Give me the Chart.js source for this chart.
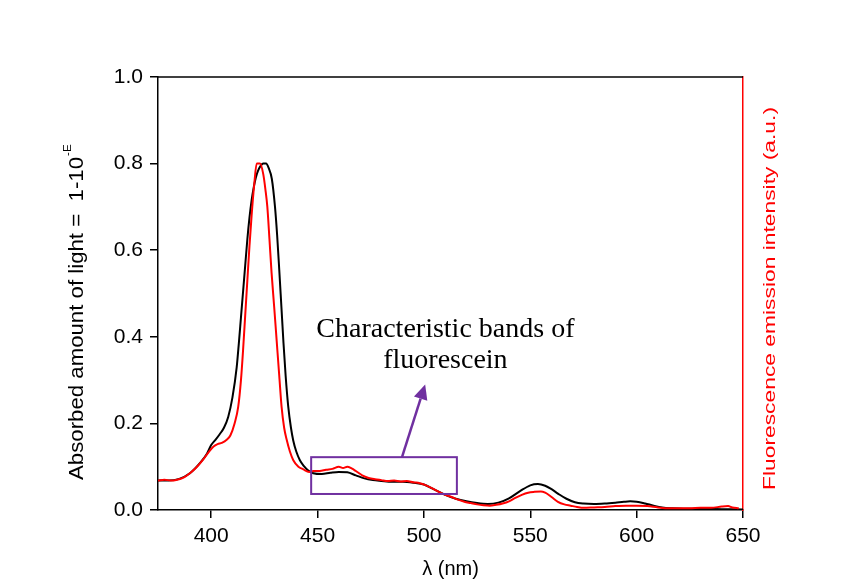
<!DOCTYPE html>
<html>
<head>
<meta charset="utf-8">
<script src="https://cdn.jsdelivr.net/npm/chart.js@4.4.1/dist/chart.umd.min.js"></script>
<style>
  html, body { margin: 0; padding: 0; background: #fff; }
  #wrap { width: 847px; height: 588px; }
</style>
</head>
<body>
<div id="wrap"><canvas id="chart"></canvas></div>
<script>
// Absorbance (black) - wavelength (nm) and value
const absWavelength = [375, 380, 385, 390, 395, 398, 400, 402, 404, 406, 408, 410, 412, 413, 414, 415, 416, 417, 418, 419, 420, 421, 422, 423, 424.5, 425.8, 427, 428.5, 430, 431, 432, 433, 434, 435, 436.2, 437.5, 438.6, 440, 441.7, 443.5, 445.5, 448, 452, 456, 460, 464, 468, 472, 476, 480, 485, 490, 495, 500, 505, 510, 515, 520, 525, 530, 535, 540, 545, 550, 553.6, 557, 560, 563, 567, 571, 575, 580, 585, 590, 594, 597, 600, 604, 608, 612, 617, 622, 630, 640, 650];
const absValue = [0.068, 0.068, 0.072, 0.085, 0.11, 0.13, 0.15, 0.162, 0.175, 0.19, 0.215, 0.26, 0.33, 0.385, 0.445, 0.505, 0.565, 0.625, 0.675, 0.715, 0.745, 0.768, 0.783, 0.793, 0.8, 0.8, 0.79, 0.765, 0.70, 0.635, 0.555, 0.47, 0.385, 0.31, 0.24, 0.19, 0.16, 0.135, 0.115, 0.102, 0.092, 0.085, 0.083, 0.086, 0.088, 0.087, 0.08, 0.073, 0.069, 0.067, 0.065, 0.065, 0.063, 0.059, 0.047, 0.035, 0.026, 0.02, 0.016, 0.014, 0.017, 0.027, 0.043, 0.057, 0.06, 0.056, 0.048, 0.038, 0.026, 0.018, 0.015, 0.014, 0.015, 0.017, 0.019, 0.02, 0.019, 0.015, 0.01, 0.006, 0.004, 0.003, 0.003, 0.002, 0.001];

// Fluorescence emission (red) - wavelength (nm) and intensity
const fluoWavelength = [375, 378, 381, 384, 387, 390, 393, 396, 399, 401, 403, 405, 407.3, 409, 411, 412.7, 414, 415, 416, 417, 418, 419, 420.2, 421.4, 423, 424.5, 425.5, 426.4, 427.4, 428.4, 429.6, 430.8, 432, 433.1, 434.3, 435.5, 437, 438.6, 441, 443.3, 446, 448, 451, 454, 457, 460, 462, 464, 466, 468, 471, 474, 477, 480, 483, 486, 489, 492, 495, 498, 501, 504, 507, 510, 513, 516, 519, 522, 525, 528, 531, 534, 537, 540, 543, 546, 549, 552, 555, 557, 560, 563, 566, 569, 572, 575, 580, 585, 590, 595, 600, 605, 610, 615, 620, 625, 630, 635, 640, 643, 645, 648];
const fluoValue = [0.068, 0.07, 0.068, 0.07, 0.075, 0.085, 0.098, 0.115, 0.135, 0.146, 0.152, 0.155, 0.162, 0.172, 0.2, 0.238, 0.3, 0.37, 0.45, 0.53, 0.61, 0.68, 0.75, 0.80, 0.80, 0.775, 0.74, 0.70, 0.625, 0.547, 0.47, 0.39, 0.31, 0.238, 0.19, 0.162, 0.135, 0.115, 0.1, 0.094, 0.088, 0.09, 0.09, 0.093, 0.095, 0.1, 0.097, 0.1, 0.096, 0.09, 0.08, 0.074, 0.071, 0.069, 0.067, 0.068, 0.066, 0.067, 0.064, 0.062, 0.057, 0.05, 0.042, 0.035, 0.03, 0.024, 0.019, 0.016, 0.013, 0.011, 0.01, 0.012, 0.015, 0.02, 0.028, 0.035, 0.04, 0.042, 0.043, 0.04, 0.03, 0.019, 0.013, 0.01, 0.007, 0.005, 0.006, 0.007, 0.009, 0.01, 0.01, 0.009, 0.006, 0.004, 0.004, 0.004, 0.005, 0.005, 0.008, 0.009, 0.006, 0.004];

// axis ticks
const xTicks = [400, 450, 500, 550, 600, 650];
const yTicks = [0, 0.2, 0.4, 0.6, 0.8, 1.0];

const toPoints = (xs, ys) => xs.map((x, i) => ({ x: x, y: ys[i] }));

// extra drawing: frame top, left title with superscript, right title, annotation box and arrow
const extras = {
  id: "extras",
  afterDraw(chart) {
    const { ctx, chartArea: a, scales: { x, y } } = chart;
    ctx.save();

    // top frame line
    ctx.strokeStyle = "#000";
    ctx.lineWidth = 1.5;
    ctx.beginPath();
    ctx.moveTo(a.left, a.top);
    ctx.lineTo(a.right, a.top);
    ctx.stroke();

    // left title
    const main = "Absorbed amount of light =  1-10";
    ctx.save();
    ctx.translate(83, 480);
    ctx.rotate(-Math.PI / 2);
    ctx.font = "21px 'Liberation Sans', Arial, sans-serif";
    const w = ctx.measureText(main).width;
    ctx.scale(323 / w, 1);
    ctx.fillStyle = "#000";
    ctx.textBaseline = "alphabetic";
    ctx.textAlign = "left";
    ctx.fillText(main, 0, 0);
    ctx.font = "11px 'Liberation Sans', Arial, sans-serif";
    ctx.fillText("-E", w + 1, -12);
    ctx.restore();

    // right title (red)
    const right = "Fluorescence emission intensity (a.u.)";
    ctx.save();
    ctx.translate(775, 298.5);
    ctx.rotate(-Math.PI / 2);
    ctx.font = "17px 'Liberation Sans', Arial, sans-serif";
    const rw = ctx.measureText(right).width;
    ctx.scale(383 / rw, 1);
    ctx.fillStyle = "#ff0000";
    ctx.textAlign = "center";
    ctx.textBaseline = "alphabetic";
    ctx.fillText(right, 0, 0);
    ctx.restore();

    // annotation box
    const purple = "#7030a0";
    ctx.strokeStyle = purple;
    ctx.lineWidth = 2;
    const bx0 = x.getPixelForValue(447), bx1 = x.getPixelForValue(515.5);
    const by0 = y.getPixelForValue(0.122), by1 = y.getPixelForValue(0.037);
    ctx.strokeRect(bx0, by0, bx1 - bx0, by1 - by0);

    // arrow
    const ax0 = x.getPixelForValue(489.7), ay0 = y.getPixelForValue(0.122);
    const ax1 = x.getPixelForValue(500.6), ay1 = y.getPixelForValue(0.29);
    const ang = Math.atan2(ay1 - ay0, ax1 - ax0);
    const hl = 15, hw = 7;
    ctx.lineWidth = 2.5;
    ctx.beginPath();
    ctx.moveTo(ax0, ay0);
    ctx.lineTo(ax1 - hl * Math.cos(ang), ay1 - hl * Math.sin(ang));
    ctx.stroke();
    ctx.fillStyle = purple;
    ctx.beginPath();
    ctx.moveTo(ax1, ay1);
    ctx.lineTo(ax1 - hl * Math.cos(ang) + hw * Math.sin(ang), ay1 - hl * Math.sin(ang) - hw * Math.cos(ang));
    ctx.lineTo(ax1 - hl * Math.cos(ang) - hw * Math.sin(ang), ay1 - hl * Math.sin(ang) + hw * Math.cos(ang));
    ctx.closePath();
    ctx.fill();

    // annotation text
    ctx.fillStyle = "#000";
    ctx.font = "28px 'Liberation Serif', 'Times New Roman', serif";
    ctx.textAlign = "center";
    ctx.textBaseline = "alphabetic";
    const tx = x.getPixelForValue(510.1);
    ctx.fillText("Characteristic bands of", tx, y.getPixelForValue(0.399));
    ctx.fillText("fluorescein", tx, y.getPixelForValue(0.328));

    ctx.restore();
  },
};

const ctx = document.getElementById("chart").getContext("2d");
new Chart(ctx, {
  type: "line",
  data: {
    datasets: [
      {
        label: "Fluorescence",
        data: toPoints(fluoWavelength, fluoValue),
        yAxisID: "y2",
        borderColor: "#ff0000",
        borderWidth: 2,
        pointRadius: 0,
        cubicInterpolationMode: "monotone",
        fill: false,
      },
      {
        label: "Absorbance",
        data: toPoints(absWavelength, absValue),
        yAxisID: "y",
        borderColor: "#000000",
        borderWidth: 2,
        pointRadius: 0,
        cubicInterpolationMode: "monotone",
        fill: false,
      },
    ],
  },
  options: {
    responsive: true,
    maintainAspectRatio: false,
    animation: false,
    layout: { padding: { top: 77, left: 0, right: 0, bottom: 0 } },
    plugins: {
      legend: { display: false },
      tooltip: { enabled: false },
    },
    scales: {
      x: {
        type: "linear",
        min: 375,
        max: 650,
        afterBuildTicks: (s) => { s.ticks = xTicks.map((v) => ({ value: v })); },
        afterFit: (s) => { s.height = 78; },
        grid: { drawOnChartArea: false, drawTicks: true, tickLength: 8, color: "#000", lineWidth: 1.5 },
        border: { display: true, color: "#000", width: 1.5 },
        ticks: { color: "#000", padding: 6, font: { family: "'Liberation Sans', Arial, sans-serif", size: 21 } },
        title: {
          display: true,
          text: "λ (nm)",
          color: "#000",
          padding: { top: 0, bottom: 7 },
          font: { family: "'Liberation Sans', Arial, sans-serif", size: 20 },
        },
      },
      y: {
        position: "left",
        min: 0,
        max: 1,
        afterBuildTicks: (s) => { s.ticks = yTicks.map((v) => ({ value: v })); },
        afterFit: (s) => { s.width = 158; },
        grid: { drawOnChartArea: false, drawTicks: true, tickLength: 8, color: "#000", lineWidth: 1.5 },
        border: { display: true, color: "#000", width: 1.5 },
        ticks: {
          color: "#000",
          padding: 7,
          font: { family: "'Liberation Sans', Arial, sans-serif", size: 21 },
          callback: (v) => v.toFixed(1),
        },
      },
      y2: {
        position: "right",
        min: 0,
        max: 1,
        afterFit: (s) => { s.width = 104; },
        grid: { drawOnChartArea: false, drawTicks: false },
        border: { display: true, color: "#ff0000", width: 1.5 },
        ticks: { display: false },
      },
    },
  },
  plugins: [extras],
});
</script>
</body>
</html>
